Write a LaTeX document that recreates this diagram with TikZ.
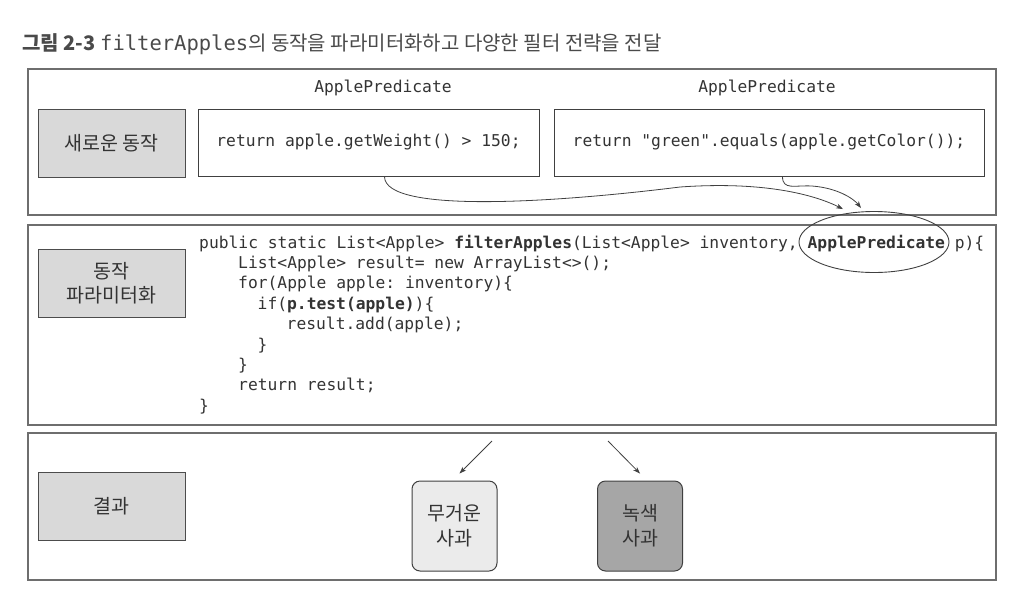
\documentclass[tikz,border=0pt]{standalone}
\usepackage{fontspec}
\setmonofont{DejaVu Sans Mono}
\newfontfamily\kr{Noto Sans CJK KR}
\usetikzlibrary{shapes.geometric,arrows.meta,calc}
\definecolor{ink}{HTML}{333333}
\definecolor{titlegray}{HTML}{4A4A4A}
\definecolor{frame}{HTML}{6E6E6E}
\definecolor{labfill}{HTML}{D9D9D9}
\definecolor{lightres}{HTML}{EBEBEB}
\definecolor{darkres}{HTML}{A6A6A6}
\tikzset{
  panel/.style={draw=frame, line width=1.2pt, minimum width=968pt, inner sep=0pt},
  labelbox/.style={draw=black!70, fill=labfill, line width=1pt, minimum width=147pt, minimum height=68pt, inner sep=0pt, align=center, font=\kr\fontsize{19.5}{24}\selectfont, text=ink},
  codebox/.style={draw=black!75, line width=1pt, minimum height=67pt, inner sep=0pt, font=\ttfamily\fontsize{16.3}{20}\selectfont, text=ink},
  codeline/.style={anchor=base west, inner sep=0pt, font=\ttfamily\fontsize{16.3}{20}\selectfont, text=ink},
  resbox/.style={draw=black!75, line width=1pt, rounded corners=8pt, minimum width=85pt, minimum height=90pt, inner sep=0pt, align=center, font=\kr\fontsize{19.5}{25}\selectfont, text=ink},
  arr/.style={draw=black!75, line width=0.8pt, -{Stealth[length=7pt,width=5pt]}}
}
\begin{document}
\begin{tikzpicture}[x=1pt,y=-1pt]
\useasboundingbox (0,0) rectangle (1028,614);
% title
\node[anchor=base west, inner sep=0pt, text=titlegray] (title) at (22,50)
  {{\kr\bfseries\fontsize{20}{22}\selectfont 그림 2-3 }{\ttfamily\fontsize{20.5}{22}\selectfont filterApples}{\kr\fontsize{20}{22}\selectfont 의 동작을 파라미터화하고 다양한 필터 전략을 전달}};
% panels
\node[panel, minimum height=146pt] (p1) at (512,142) {};
\node[panel, minimum height=200pt] (p2) at (512,325) {};
\node[panel, minimum height=147pt] (p3) at (512,506.5) {};
% labels
\node[labelbox] (l1) at (111.5,143) {새로운 동작};
\node[labelbox] (l2) at (111.5,283) {동작\\파라미터화};
\node[labelbox] (l3) at (111.5,506) {결과};
% predicate boxes
\node[codebox, minimum width=341pt] (b1) at (368.5,142.5) {return apple.getWeight() > 150;};
\node[codebox, minimum width=430pt] (b2) at (769,142.5) {return "green".equals(apple.getColor());};
\node[inner sep=0pt, font=\ttfamily\fontsize{16.3}{20}\selectfont, text=ink] (ap1) at (383,88) {ApplePredicate};
\node[inner sep=0pt, font=\ttfamily\fontsize{16.3}{20}\selectfont, text=ink] (ap2) at (767,88) {ApplePredicate};
% code
\node[codeline] (c1) at (199,248) {public static List<Apple> \textbf{filterApples}(List<Apple> inventory, \textbf{ApplePredicate} p)\{};
\node[codeline] (c2) at (238,268.4) {List<Apple> result= new ArrayList<>();};
\node[codeline] (c3) at (238,288.8) {for(Apple apple: inventory)\{};
\node[codeline] (c4) at (257.5,309.2) {if(\textbf{p.test(apple)})\{};
\node[codeline] (c5) at (286.5,329.6) {result.add(apple);};
\node[codeline] (c6) at (257.5,350) {\}};
\node[codeline] (c7) at (238,370.4) {\}};
\node[codeline] (c8) at (238,390.8) {return result;};
\node[codeline] (c9) at (199,411.2) {\}};
% ellipse
\node[draw=black!75, line width=0.9pt, ellipse, minimum width=150pt, minimum height=61pt, inner sep=0pt] (ell) at (874,242) {};
\coordinate (ea) at ($(ell.north)+(-31,-2)$);
\coordinate (eb) at ($(ell.north)+(-13,-3)$);
\coordinate (sa) at ($(b1.south west)+(187,0)$);
\coordinate (sb) at ($(b2.south west)+(229,0)$);
\draw[arr] (sa) .. controls +(0,38) and (560,202) .. (680,187) .. controls (765,181) and (815,195) .. (ea);
\draw[arr] (sb) .. controls +(0,14) and (795,185) .. (812,186) .. controls (838,188) and (854,199) .. (eb);
% results
\node[resbox, fill=lightres] (r1) at (454.5,526) {무거운\\사과};
\node[resbox, fill=darkres] (r2) at (640,526) {녹색\\사과};
\coordinate (t1) at (492,441);
\coordinate (t2) at (608,441);
\draw[arr] (t1) -- ($(r1.north)+(5,-7)$);
\draw[arr] (t2) -- ($(r2.north)+(0,-7)$);
\end{tikzpicture}
\end{document}
